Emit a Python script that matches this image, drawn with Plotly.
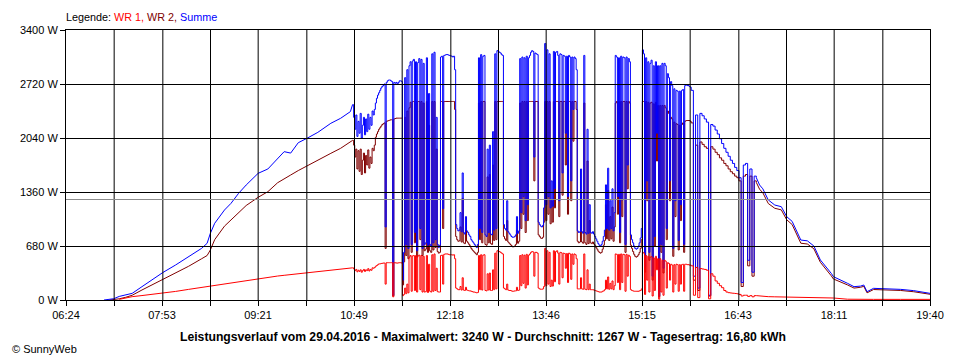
import plotly.graph_objects as go

# ---------------- data ----------------
series_names = ["WR 1", "WR 2", "Summe"]
series_colors = ["#ff0000", "#800000", "#0000ff"]

# morning (explicit sample times)
morning_times = ["06:59", "07:04", "07:08", "07:13", "07:19", "07:25", "07:34", "07:43", "07:53", "08:05",
                 "08:17", "08:29", "08:34", "08:37", "08:41", "08:50", "08:56", "09:03", "09:10", "09:21",
                 "09:30", "09:39", "09:45", "09:51", "09:58", "10:06", "10:16", "10:28", "10:37", "10:46"]
morning_summe = [0, 5, 16, 45, 65, 84, 168, 252, 344, 441,
                 546, 651, 714, 840, 966, 1133, 1217, 1343, 1448, 1595,
                 1650, 1784, 1868, 1850, 1981, 2036, 2111, 2225, 2288, 2372]
morning_wr2 = [None, 0, 3, 15, 34, 60, 126, 189, 260, 350,
               425, 520, 560, 630, 760, 930, 1010, 1092, 1190, 1293,
               1364, 1477, 1530, 1574, 1630, 1690, 1763, 1847, 1910, 1990]
morning_wr1 = [None, None, None, 8, 25, 42, 56, 70, 84, 108,
               134, 159, 168, 176, 185, 205, 218, 232, 249, 273,
               287, 302, 311, 320, 330, 344, 358, 376, 390, 403]

# late morning: samples every minute from 10:48 to 11:31
partA_start, partA_step = "10:48", 1
partA_summe = [2460, 2300, 2150, 2330, 2060, 2250, 2100, 2350, 2040, 2200,
               2300, 2080, 2280, 2120, 2340, 2150, 2300, 2200, 2380, 2330,
               2400, 2480, 2540, 2580, 2610, 2640, 2670, 2690, 2700, 2720,
               920, 2740, 2760, 2770, 2770, 2760, 2750, 60, 2740, 2730,
               2740, 2720, 2740, 2760]
partA_wr2 = [2010, 1950, 1800, 1900, 1650, 1880, 1620, 1900, 1580, 1760,
             1850, 1600, 1820, 1700, 1890, 1660, 1800, 1720, 1910, 1880,
             1950, 2050, 2090, 2120, 2150, 2170, 2190, 2210, 2220, 2230,
             650, 2250, 2255, 2260, 2265, 2270, 2270, 50, 2280, 2285,
             2290, 2290, 2290, 2290]
partA_wr1 = [405, 390, 370, 385, 355, 375, 360, 380, 350, 370,
             385, 360, 380, 370, 395, 365, 385, 375, 405, 400,
             410, 425, 435, 445, 455, 455, 460, 462, 465, 465,
             200, 470, 470, 470, 470, 470, 470, 40, 470, 468,
             466, 465, 468, 470]

# cloudy midday: samples every minute from 11:32 to 16:00
partB_start, partB_step = "11:32", 1
partB_summe = [
    2760, 2750, 250, 600, 2800, 700, 2900, 650, 2950, 3000,
    700, 3010, 3030, 850, 3000, 620, 2990, 3040, 900, 3030,
    650, 2980, 700, 720, 3050, 690, 2600, 700, 680, 3100,
    720, 3120, 760, 2300, 700, 660, 690, 3060, 3070, 1150,
    3080, 3085, 3090, 3090, 3085, 3080, 3075, 3070, 3060, 3070,
    2900, 950, 900, 870, 880, 1100, 860, 1600, 850, 830,
    1050, 870, 850, 820, 800, 760, 740, 720, 700, 680,
    660, 700, 3050, 900, 3090, 850, 3070, 3080, 820, 800,
    1900, 850, 1950, 830, 820, 2120, 880, 3100, 900, 3140,
    3130, 3120, 3110, 3090, 3080, 950, 900, 880, 1250, 860,
    840, 820, 800, 790, 790, 800, 820, 1050, 840, 870,
    3040, 1100, 3060, 1300, 3050, 1000, 3070, 1200, 3050, 3080,
    3120, 3140, 3130, 1800, 3110, 3100, 3090, 980, 950, 930,
    920, 940, 1160, 3230, 1200, 3150, 1300, 3100, 1160, 1500,
    1180, 3130, 1400, 3120, 3130, 3080, 1250, 3100, 3090, 1600,
    3080, 3070, 2100, 3070, 1300, 3080, 3060, 1500, 3060, 2400,
    3060, 3040, 2900, 870, 850, 860, 1650, 860, 840, 3080,
    850, 830, 2150, 840, 1200, 850, 840, 860, 830, 800,
    770, 740, 710, 690, 680, 700, 740, 800, 880, 1450,
    900, 1660, 880, 1250, 900, 1400, 870, 1100, 3080, 3060,
    1300, 3050, 850, 3070, 1260, 3060, 3050, 700, 3060, 1700,
    3040, 3000, 820, 760, 720, 680, 650, 640, 650, 680,
    720, 780, 900, 3150, 3100, 420, 3050, 1500, 3000, 600,
    2980, 3020, 300, 2950, 800, 3000, 2100, 2950, 50, 2950,
    700, 2980, 400, 2980, 2950, 900, 2850, 2800, 1500, 2750,
    2700, 650, 2660, 1250, 2640, 2630, 750, 2630, 1200, 2640,
    2650, 700, 2700, 2710, 2700, 2700, 2690, 2680, 2640]
partB_wr2 = [
    2290, 2290, 190, 480, 2300, 560, 2380, 520, 2420, 2490,
    600, 2500, 2500, 720, 2500, 540, 2500, 2500, 760, 2500,
    560, 2480, 620, 640, 2500, 600, 2200, 620, 600, 2500,
    630, 2500, 660, 1900, 610, 590, 600, 2500, 2500, 900,
    2500, 2500, 2500, 2500, 2500, 2500, 2500, 2500, 2500, 2500,
    2400, 800, 760, 740, 745, 920, 730, 1280, 720, 710,
    880, 740, 720, 700, 680, 650, 630, 615, 600, 585,
    570, 600, 2480, 760, 2500, 720, 2500, 2500, 700, 690,
    1550, 720, 1580, 710, 700, 1700, 750, 2500, 760, 2500,
    2500, 2500, 2500, 2500, 2500, 800, 770, 750, 1000, 730,
    715, 700, 685, 670, 670, 680, 700, 880, 715, 740,
    2480, 900, 2500, 1080, 2500, 850, 2500, 1000, 2500, 2500,
    2500, 2500, 2500, 1500, 2500, 2500, 2500, 820, 800, 780,
    775, 790, 980, 2500, 1000, 2500, 1080, 2500, 960, 1250,
    980, 2500, 1160, 2500, 2500, 2500, 1050, 2500, 2500, 1320,
    2500, 2500, 1700, 2500, 1080, 2500, 2500, 1250, 2500, 2000,
    2500, 2500, 2400, 740, 720, 730, 1350, 730, 715, 2480,
    720, 700, 1750, 710, 1000, 720, 710, 730, 705, 690,
    660, 640, 615, 600, 590, 600, 640, 690, 750, 1200,
    770, 1380, 750, 1050, 770, 1170, 740, 920, 2480, 2500,
    1080, 2500, 720, 2500, 1050, 2500, 2500, 600, 2500, 1400,
    2500, 2480, 690, 650, 610, 575, 550, 540, 550, 570,
    600, 650, 760, 2500, 2500, 350, 2500, 1250, 2490, 500,
    2480, 2490, 250, 2470, 680, 2490, 1750, 2450, 40, 2450,
    600, 2450, 340, 2450, 2420, 760, 2380, 2350, 1250, 2300,
    2280, 550, 2240, 1050, 2220, 2210, 630, 2200, 1000, 2210,
    2230, 600, 2250, 2260, 2260, 2260, 2260, 2250, 2230]
partB_wr1 = [
    470, 465, 55, 70, 150, 80, 200, 90, 540, 560,
    110, 555, 560, 120, 560, 100, 555, 565, 130, 560,
    100, 550, 100, 105, 560, 95, 450, 110, 100, 570,
    110, 580, 120, 400, 105, 100, 100, 560, 565, 200,
    575, 580, 580, 580, 575, 570, 570, 570, 565, 570,
    520, 150, 140, 130, 130, 170, 125, 280, 125, 120,
    160, 125, 120, 115, 115, 110, 105, 100, 100, 95,
    90, 95, 560, 130, 570, 125, 565, 570, 120, 115,
    330, 125, 340, 120, 120, 380, 130, 590, 140, 620,
    615, 610, 600, 590, 580, 150, 140, 130, 200, 125,
    120, 120, 115, 110, 110, 115, 115, 160, 120, 125,
    560, 180, 570, 210, 565, 150, 575, 190, 565, 580,
    600, 610, 605, 300, 600, 600, 590, 150, 140, 135,
    135, 140, 170, 650, 180, 620, 200, 600, 170, 250,
    175, 620, 230, 610, 620, 590, 200, 600, 595, 280,
    590, 585, 400, 585, 220, 590, 580, 260, 580, 450,
    580, 570, 520, 140, 140, 140, 280, 140, 135, 580,
    135, 130, 380, 130, 200, 130, 130, 130, 125, 120,
    115, 110, 105, 100, 100, 100, 110, 115, 130, 250,
    140, 290, 135, 210, 140, 240, 130, 180, 580, 575,
    220, 575, 130, 580, 220, 575, 570, 110, 575, 300,
    565, 550, 130, 120, 115, 110, 110, 110, 110, 110,
    115, 120, 140, 600, 590, 70, 560, 250, 550, 100,
    540, 545, 50, 530, 120, 550, 380, 520, 10, 520,
    100, 500, 60, 500, 490, 150, 470, 460, 250, 450,
    440, 100, 445, 200, 450, 445, 110, 445, 200, 445,
    450, 110, 450, 450, 445, 445, 440, 440, 430]

# afternoon: samples every 2 minutes from 16:02 to 17:00
partC_start, partC_step = "16:02", 2
partC_summe = [300, 2330, 150, 2350, 2320, 2280, 2240, 60, 2210, 2190,
               2140, 2090, 2030, 1970, 1910, 1860, 1810, 1760, 1720, 1670,
               1630, 1540, 220, 1700, 1720, 500, 1650, 350, 1560, 1540]
partC_wr2 = [250, 1950, 120, 1990, 1960, 1930, 1910, 50, 1930, 1900,
             1860, 1830, 1790, 1760, 1720, 1690, 1650, 1615, 1590, 1560,
             1540, 1500, 170, 1560, 1580, 430, 1560, 300, 1500, 1480]
partC_wr1 = [60, 410, 30, 395, 390, 385, 375, 15, 330, 300,
             240, 210, 180, 155, 120, 100, 92, 88, 85, 82,
             78, 70, 50, 60, 60, 45, 55, 40, 55, 55]

# evening (explicit sample times)
evening_times = ["17:03", "17:06", "17:11", "17:17", "17:23", "17:28", "17:33", "17:41", "17:47", "17:53",
                 "17:59", "18:09", "18:11", "18:24", "18:30", "18:36", "18:39", "18:42", "18:48", "19:13",
                 "19:25", "19:40"]
evening_summe = [1448, 1400, 1260, 1196, 1175, 1049, 990, 755, 745, 680,
                 504, 336, 294, 210, 168, 175, 189, 105, 147, 134,
                 118, 84]
evening_wr2 = [1395, 1350, 1215, 1155, 1135, 1010, 950, 715, 705, 645,
               475, 305, 265, 190, 150, 160, 172, 90, 132, 120,
               104, 72]
evening_wr1 = [50, 48, 42, 40, 38, 34, 34, 33, 32, 30,
               28, 26, 25, 10, 8, 8, 8, 8, 8, 8,
               8, 8]

average_w = 1267
axis_start = "06:24"
axis_end = "19:40"
x_tick_labels = ["06:24", "07:53", "09:21", "10:49", "12:18", "13:46", "15:15", "16:43", "18:11", "19:40"]
y_tick_values = [0, 680, 1360, 2040, 2720, 3400]
y_unit = "W"

legend_prefix = "Legende: "
footer_text = ("Leistungsverlauf vom 29.04.2016 - Maximalwert: 3240 W - Durchschnitt: 1267 W"
               " - Tagesertrag: 16,80 kWh")
copyright_text = "© SunnyWeb"

# ---------------- build ----------------
def to_min(s):
    h, m = s.split(":")
    return int(h) * 60 + int(m)


def sampled(start, step, n):
    return [to_min(start) + i * step for i in range(n)]


def fit(vals, n):  # guard against a miscounted row
    vals = list(vals)[:n]
    return vals + [vals[-1]] * (n - len(vals))


nA, nB, nC = len(partA_summe), len(partB_summe), len(partC_summe)
mid_times = (sampled(partA_start, partA_step, nA) + sampled(partB_start, partB_step, nB)
             + sampled(partC_start, partC_step, nC))
times = [to_min(t) for t in morning_times] + mid_times + [to_min(t) for t in evening_times]
series = {
    "WR 1": morning_wr1 + fit(partA_wr1, nA) + fit(partB_wr1, nB) + fit(partC_wr1, nC) + evening_wr1,
    "WR 2": morning_wr2 + fit(partA_wr2, nA) + fit(partB_wr2, nB) + fit(partC_wr2, nC) + evening_wr2,
    "Summe": morning_summe + partA_summe + partB_summe + partC_summe + evening_summe,
}

nm, nd = len(morning_times), len(mid_times)
# smooth morning / evening parts drawn as straight segments, the logger's dense midday part as steps
segments = [(0, nm + 1, "linear"), (nm, nm + nd, "hv"), (nm + nd - 1, len(times), "linear")]

x0, x1 = to_min(axis_start), to_min(axis_end)
y0, y1 = y_tick_values[0], y_tick_values[-1]
n_int = 2 * (len(x_tick_labels) - 1)
x_grid = [x0 + k * (x1 - x0) / n_int for k in range(n_int + 1)]
x_text = [x_tick_labels[k // 2] if k % 2 == 0 else "" for k in range(n_int + 1)]

FONT = "Liberation Sans, Arial, sans-serif"

# the page body has an 8px margin: the figure is sized/padded so the plot sits where the reference has it
W, H, OFF = 952, 352, 8
ML, MT, MR, MB = 60 - OFF, 30 - OFF, 30, 60
PW, PH = W - ML - MR, H - MT - MB
PL, PT = OFF + ML, OFF + MT  # page pixel of plot-area left / top


def px(xp):  # page x pixel -> paper coordinate
    return (xp - PL) / PW


def py(yp):  # page y pixel -> paper coordinate
    return 1 - (yp - PT) / PH


def snap_x(v):  # data x -> data x at the centre of its pixel column (crisp 1px line)
    c = round(PL + (v - x0) / (x1 - x0) * PW)
    return x0 + (c + 0.5 - PL) / PW * (x1 - x0)


def snap_y(v):
    r = round(PT + (y1 - v) / (y1 - y0) * PH)
    return y1 - (r + 0.5 - PT) / PH * (y1 - y0)


fig = go.Figure()
for name in ("WR 2", "Summe", "WR 1"):
    col = series_colors[series_names.index(name)]
    ys = series[name]
    for a, b, shp in segments:
        fig.add_trace(go.Scatter(x=times[a:b], y=ys[a:b], mode="lines", name=name,
                                 line=dict(color=col, width=1, shape=shp),
                                 connectgaps=False, showlegend=False))

shapes = []
for xv in x_grid[1:-1]:
    sx = snap_x(xv)
    shapes.append(dict(type="line", xref="x", yref="y", x0=sx, x1=sx, y0=y0, y1=y1,
                       line=dict(color="black", width=1), layer="above"))
for yv in y_tick_values[1:-1]:
    sy = snap_y(yv)
    shapes.append(dict(type="line", xref="x", yref="y", x0=x0, x1=x1, y0=sy, y1=sy,
                       line=dict(color="black", width=1), layer="above"))
sa = snap_y(average_w)
shapes.append(dict(type="line", xref="x", yref="y", x0=x0, x1=x1, y0=sa, y1=sa,
                   line=dict(color="#8c8c8c", width=1), layer="above"))

legend_html = (f"<span style='color:black'>{legend_prefix}</span>"
               f"<span style='color:{series_colors[0]}'>{series_names[0]}, </span>"
               f"<span style='color:{series_colors[1]}'>{series_names[1]}, </span>"
               f"<span style='color:{series_colors[2]}'>{series_names[2]}</span>")

fig.update_layout(
    width=W, height=H,
    margin=dict(l=ML, r=MR, t=MT, b=MB, pad=0),
    paper_bgcolor="white", plot_bgcolor="white",
    font=dict(family=FONT, size=11, color="black"),
    shapes=shapes,
    annotations=[
        dict(text=legend_html, xref="paper", yref="paper", x=px(58), y=py(17),
             xanchor="left", yanchor="middle", showarrow=False,
             font=dict(family=FONT, size=10.8)),
        dict(text=f"<b>{footer_text}</b>", xref="paper", yref="paper", x=px(480), y=py(337),
             xanchor="center", yanchor="middle", showarrow=False,
             font=dict(family=FONT, size=12.2)),
        dict(text=copyright_text, xref="paper", yref="paper", x=px(4), y=py(349),
             xanchor="left", yanchor="middle", showarrow=False,
             font=dict(family=FONT, size=11)),
    ],
)
fig.update_xaxes(range=[x0, x1], tickmode="array", tickvals=x_grid, ticktext=x_text,
                 showgrid=False, zeroline=False, showline=True, linecolor="black", linewidth=1,
                 mirror=True, ticks="outside", ticklen=5, tickcolor="black", tickwidth=1,
                 tickfont=dict(family=FONT, size=11, color="black"))
fig.update_yaxes(range=[y0, y1], tickmode="array", tickvals=y_tick_values,
                 ticktext=[f"{v} {y_unit}" for v in y_tick_values],
                 showgrid=False, zeroline=False, showline=True, linecolor="black", linewidth=1,
                 mirror=True, ticks="outside", ticklen=5, tickcolor="black", tickwidth=1,
                 tickfont=dict(family=FONT, size=11, color="black"))

fig.write_html("out.html")
